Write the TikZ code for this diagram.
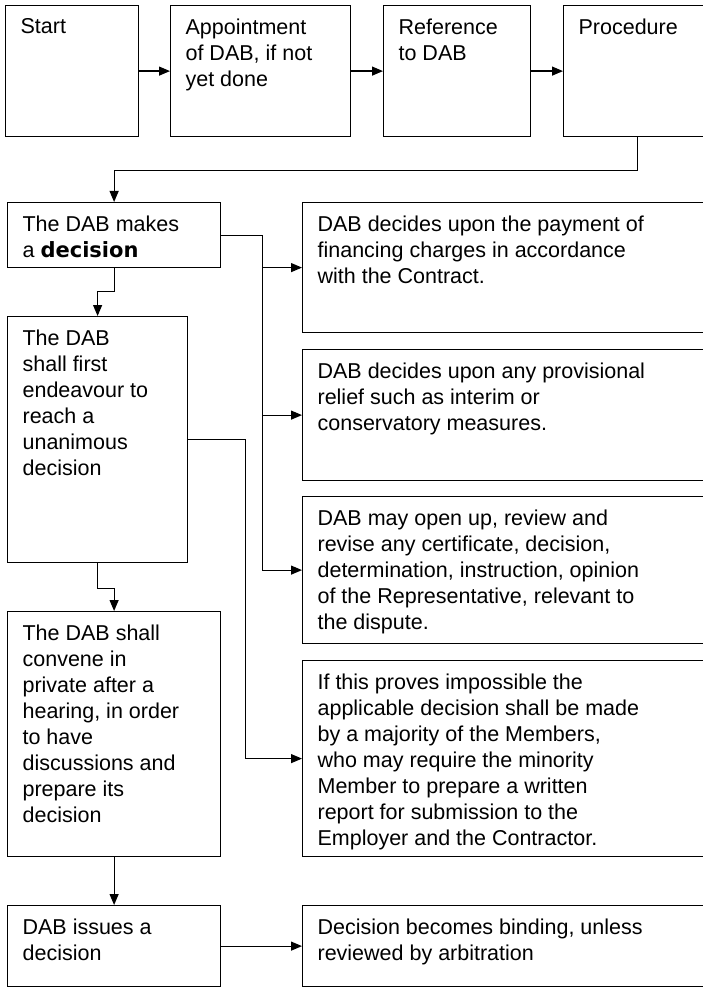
\documentclass[tikz,border=0pt]{standalone}
\usepackage{fontspec}
\setmainfont{Liberation Sans}
\newfontfamily\dejavu{DejaVu Sans}
\usetikzlibrary{arrows.meta}

% top-aligned text block of a box, sizes in px
\newcommand{\boxbody}[3]{\parbox[c][\dimexpr#2pt-26pt\relax][t]{\dimexpr#1pt-30pt\relax}{\raggedright#3}}

\begin{document}
\begin{tikzpicture}[x=1pt, y=-1pt, line width=1.2pt, >={Triangle[length=11pt,width=9pt]},
    box/.style={draw, anchor=north west, inner xsep=15pt, inner ysep=13pt,
        font=\fontsize{21.5}{26}\selectfont}]
    \useasboundingbox (0,0) rectangle (703,987);

    % top row
    \node[box] (start) at (5,5) {\boxbody{133}{131}{Start}};
    \node[box] (appoint) at (170,5) {\boxbody{180}{131}{Appointment\\ of DAB, if not\\ yet done}};
    \node[box] (refer) at (383,5) {\boxbody{147}{131}{Reference\\ to DAB}};
    \node[box] (proc) at (563,5) {\boxbody{148}{131}{Procedure}};

    % left column
    \node[box] (makes) at (7,202) {\boxbody{213}{65}{The DAB makes\\ a {\dejavu\bfseries\fontsize{21}{26}\selectfont decision}}};
    \node[box] (first) at (7,316) {\boxbody{180}{246}{The DAB\\ shall first\\ endeavour to\\ reach a\\ unanimous\\ decision}};
    \node[box] (convene) at (7,611) {\boxbody{213}{245}{The DAB shall\\ convene in\\ private after a\\ hearing, in order\\ to have\\ discussions and\\ prepare its\\ decision}};
    \node[box] (issues) at (7,905) {\boxbody{213}{81}{DAB issues a\\ decision}};

    % right column
    \node[box] (pay) at (302,202) {\boxbody{460}{130}{DAB decides upon the payment of\\ financing charges in accordance\\ with the Contract.}};
    \node[box] (relief) at (302,349) {\boxbody{460}{131}{DAB decides upon any provisional\\ relief such as interim or\\ conservatory measures.}};
    \node[box] (revise) at (302,496) {\boxbody{460}{147}{DAB may open up, review and\\ revise any certificate, decision,\\ determination, instruction, opinion\\ of the Representative, relevant to\\ the dispute.}};
    \node[box] (majority) at (302,660) {\boxbody{460}{196}{If this proves impossible the\\ applicable decision shall be made\\ by a majority of the Members,\\ who may require the minority\\ Member to prepare a written\\ report for submission to the\\ Employer and the Contractor.}};
    \node[box] (binding) at (302,905) {\boxbody{460}{81}{Decision becomes binding, unless\\ reviewed by arbitration}};

    \draw[->] (start) -- (appoint);
    \draw[->] (appoint) -- (refer);
    \draw[->] (refer) -- (proc);
    \draw[->] (proc.south) -- ++(0,33) -| (makes.north);

    \draw[->] (makes.east) -- ++(41,0) |- (pay.west);
    \draw[->] (makes.east) -- ++(41,0) |- (relief.west);
    \draw[->] (makes.east) -- ++(41,0) |- (revise.west);
    \draw[->] (makes.south) -- ++(0,23) -| (first.north);

    \draw[->] (first.east) -- ++(57,0) |- (majority.west);
    \draw[->] (first.south) -- ++(0,25) -| (convene.north);
    \draw[->] (convene) -- (issues);
    \draw[->] (issues) -- (binding);
\end{tikzpicture}
\end{document}
